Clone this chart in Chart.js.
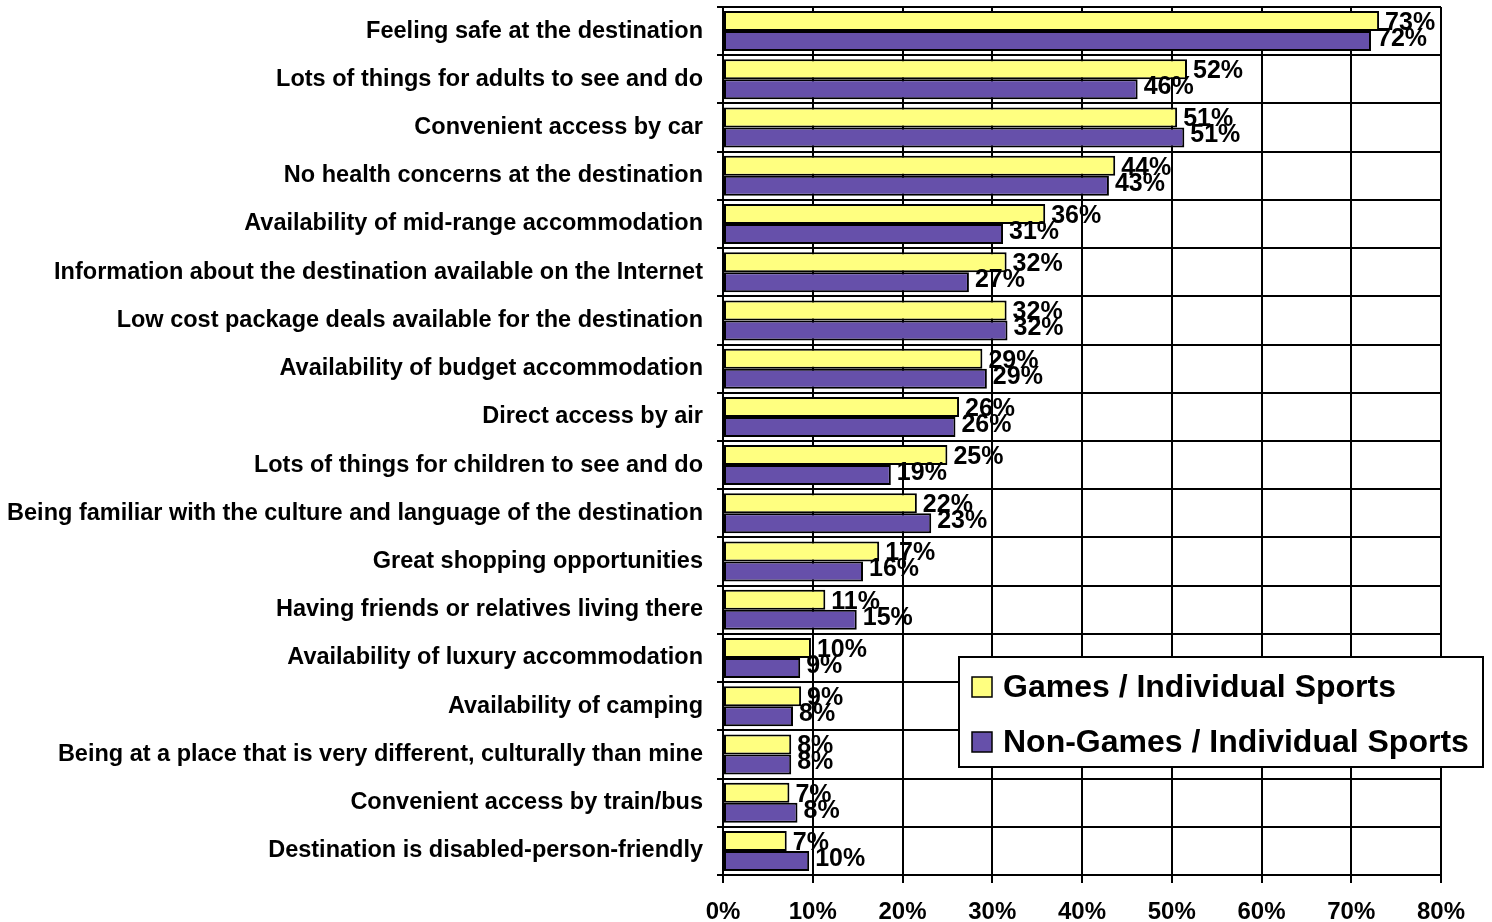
<!DOCTYPE html>
<html>
<head>
<meta charset="utf-8">
<script src="https://cdn.jsdelivr.net/npm/chart.js@4.4.1/dist/chart.umd.min.js"></script>
<style>
  html, body { margin: 0; padding: 0; background: #fff; }
  #wrap { width: 1492px; height: 922px; position: relative; }
</style>
</head>
<body>
<div id="wrap"><canvas id="c"></canvas></div>
<script>
const categories = [
  "Feeling safe at the destination",
  "Lots of things for adults to see and do",
  "Convenient access by car",
  "No health concerns at the destination",
  "Availability of mid-range accommodation",
  "Information about the destination available on the Internet",
  "Low cost package deals available for the destination",
  "Availability of budget accommodation",
  "Direct access by air",
  "Lots of things for children to see and do",
  "Being familiar with the culture and language of the destination",
  "Great shopping opportunities",
  "Having friends or relatives living there",
  "Availability of luxury accommodation",
  "Availability of camping",
  "Being at a place that is very different, culturally than mine",
  "Convenient access by train/bus",
  "Destination is disabled-person-friendly"
];
const seriesNames = ["Games / Individual Sports", "Non-Games / Individual Sports"];
const gamesValues    = [73.1, 51.7, 50.6, 43.7, 35.9, 31.6, 31.6, 28.9, 26.3, 25.0, 21.6, 17.4, 11.4, 9.8, 8.7, 7.6, 7.4, 7.1];
const nonGamesValues = [72.2, 46.2, 51.4, 43.0, 31.2, 27.4, 31.7, 29.4, 25.9, 18.7, 23.2, 15.6, 14.9, 8.6, 7.8, 7.6, 8.3, 9.6];
const gamesLabels    = ["73%","52%","51%","44%","36%","32%","32%","29%","26%","25%","22%","17%","11%","10%","9%","8%","7%","7%"];
const nonGamesLabels = ["72%","46%","51%","43%","31%","27%","32%","29%","26%","19%","23%","16%","15%","9%","8%","8%","8%","10%"];
const xTicks = [0, 10, 20, 30, 40, 50, 60, 70, 80];

const FONT = "'Liberation Sans', Arial, sans-serif";
const YELLOW = "#FFFF80";
const PURPLE = "#6650AA";

const valueLabelPlugin = {
  id: "valueLabels",
  afterDatasetsDraw(chart) {
    const ctx = chart.ctx;
    const labelSets = [gamesLabels, nonGamesLabels];
    ctx.save();
    ctx.font = "bold 25px " + FONT;
    ctx.fillStyle = "#000";
    ctx.textAlign = "left";
    ctx.textBaseline = "middle";
    chart.data.datasets.forEach((ds, di) => {
      const meta = chart.getDatasetMeta(di);
      meta.data.forEach((bar, i) => {
        const dy = di === 0 ? 2 : -2;
        ctx.fillText(labelSets[di][i], bar.x + 6, bar.y + dy);
      });
    });
    ctx.restore();
  }
};

const legendBoxPlugin = {
  id: "legendBox",
  afterDraw(chart) {
    const ctx = chart.ctx;
    const x0 = 959, y0 = 657, x1 = 1483, y1 = 767;
    ctx.save();
    ctx.fillStyle = "#fff";
    ctx.fillRect(x0, y0, x1 - x0, y1 - y0);
    ctx.lineWidth = 2;
    ctx.strokeStyle = "#000";
    ctx.strokeRect(x0, y0, x1 - x0, y1 - y0);
    const rows = [687, 742];
    chart.data.datasets.forEach((ds, di) => {
      const cy = rows[di];
      ctx.fillStyle = ds.backgroundColor;
      ctx.fillRect(972, cy - 10, 20, 20);
      ctx.lineWidth = 1.5;
      ctx.strokeStyle = "#000";
      ctx.strokeRect(972, cy - 10, 20, 20);
      ctx.fillStyle = "#000";
      ctx.font = "bold 32px " + FONT;
      ctx.textAlign = "left";
      ctx.textBaseline = "middle";
      ctx.fillText(ds.label, 1003, cy + 1);
    });
    ctx.restore();
  }
};

new Chart(document.getElementById("c"), {
  type: "bar",
  data: {
    labels: categories,
    datasets: [
      { label: seriesNames[0], data: gamesValues, backgroundColor: YELLOW, borderColor: "#000", borderWidth: 2, borderSkipped: false },
      { label: seriesNames[1], data: nonGamesValues, backgroundColor: PURPLE, borderColor: "#000", borderWidth: 2, borderSkipped: false }
    ]
  },
  options: {
    indexAxis: "y",
    responsive: true,
    maintainAspectRatio: false,
    animation: false,
    layout: { padding: { top: 7, right: 51, left: 0, bottom: 0 } },
    datasets: { bar: { categoryPercentage: 0.83, barPercentage: 1.0 } },
    plugins: { legend: { display: false }, tooltip: { enabled: false } },
    scales: {
      x: {
        min: 0, max: 80,
        afterBuildTicks(scale) { scale.ticks = xTicks.map(v => ({ value: v })); },
        afterFit(scale) { scale.height = 47; },
        grid: { color: "#000", lineWidth: 2, tickLength: 8, drawTicks: true },
        border: { color: "#000", width: 2 },
        ticks: {
          callback: v => v + "%",
          font: { family: FONT, size: 24, weight: "bold" },
          color: "#000",
          padding: 15,
          maxRotation: 0
        }
      },
      y: {
        afterFit(scale) { scale.width = 723; scale.paddingTop = 0; scale.paddingBottom = 0; },
        grid: { color: "#000", lineWidth: 2, tickLength: 6, drawTicks: true, offset: true },
        border: { color: "#000", width: 2 },
        ticks: {
          font: { family: FONT, size: 23.5, weight: "bold" },
          color: "#000",
          padding: 14,
          autoSkip: false
        }
      }
    }
  },
  plugins: [valueLabelPlugin, legendBoxPlugin]
});
</script>
</body>
</html>
